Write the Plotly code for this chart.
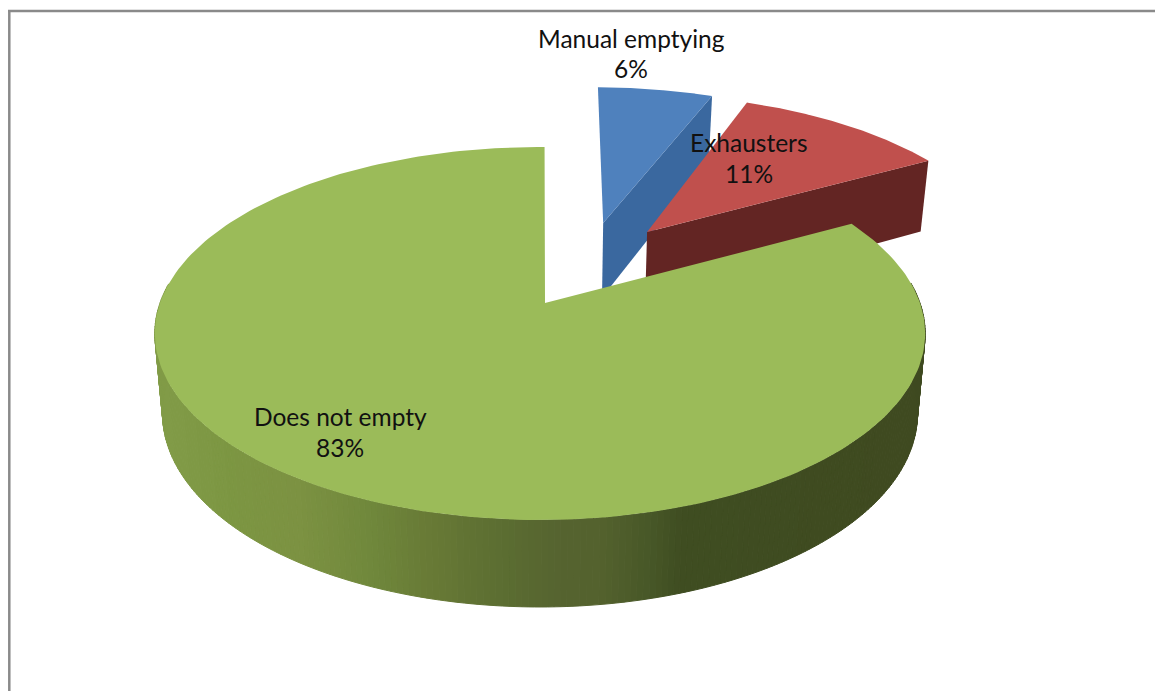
import numpy as np
import plotly.graph_objects as go

# Share of each emptying practice, in percent
categories = ["Manual emptying", "Exhausters", "Does not empty"]
shares = [6, 11, 83]
share_labels = ["6%", "11%", "83%"]

# Colours of each slice: top face, cut face
TOP_COLORS = ["#4f81bd", "#c0504d", "#9bbb59"]
CUT_COLORS = ["#3a689f", "#632523", "#4f6228"]

# Pulled-out slices are offset on the pie's plane (right, away from viewer)
OFFSETS = [(0.165, -0.475), (0.287, -0.418), (0.0, 0.0)]
# Small per-slice corrections: pie rotation in degrees, rim shift in pixels
ROTATION_DEG = [0.45, 0.0, 0.8]
RIM_SHIFT = [0.0, -2.0, -5.0]
# Label centres: x, name line y, percentage line y
LABEL_POS = [(631, 38, 68), (749, 142, 173), (340, 416, 447)]

# Camera model for the tilted disc
CX, CY = 545.0, 303.0
A, B, K = 380.0, 181.5, 0.1635
BOTTOM_SCALE = 0.98

# Rim shading of the large slice, as (screen x, colour)
RIM_STOPS = [
    (155, (130, 156, 72)), (235, (124, 150, 66)), (300, (124, 146, 66)),
    (370, (112, 136, 60)), (430, (104, 122, 54)), (500, (92, 110, 50)),
    (560, (86, 100, 48)), (600, (84, 98, 46)), (650, (72, 88, 40)),
    (680, (64, 78, 34)), (925, (63, 74, 32)),
]


def top_point(u, v, shift=0.0):
    d = 1 - K * v
    return CX + shift + A * u / d, CY + B * v / d


def depth_at(v):
    return 78.5 + 8.5 * v


def bottom_point(u, v, shift=0.0):
    x, y = top_point(u, v, shift)
    return CX + shift + BOTTOM_SCALE * (x - CX - shift), y + depth_at(v)


def rim_uv(theta, off):
    return off[0] + np.sin(theta), off[1] - np.cos(theta)


def rim_color(x):
    xs = [s[0] for s in RIM_STOPS]
    rgb = [np.interp(x, xs, [s[1][i] for s in RIM_STOPS]) for i in range(3)]
    return "rgb(%d,%d,%d)" % tuple(int(c) for c in rgb)


def polygon(fig, xs, ys, color, edge=False):
    fig.add_trace(go.Scatter(
        x=list(xs), y=list(ys), mode="lines", fill="toself", fillcolor=color,
        line=dict(color=color, width=1 if edge else 0), hoverinfo="skip",
    ))


fig = go.Figure()

# Frame lines around the chart area
fig.add_shape(type="line", x0=9.3, x1=9.3, y0=10, y1=691, line=dict(color="#8a8a8a", width=2.5))
fig.add_shape(type="line", x0=8, x1=1155, y0=11, y1=11, line=dict(color="#8a8a8a", width=2.5))

# Slice boundaries in radians, clockwise from twelve o'clock
edges = np.cumsum([0] + shares) / sum(shares) * 2 * np.pi

for i in range(len(shares)):
    rot = np.radians(ROTATION_DEG[i])
    t0, t1 = edges[i] + rot, edges[i + 1] + rot
    off, shift = OFFSETS[i], RIM_SHIFT[i]
    thetas = np.linspace(t0, t1, 241)
    u, v = rim_uv(thetas, off)
    tx, ty = top_point(u, v, shift)
    ax, ay = top_point(*off)

    if i < 2:
        # Cut face along the trailing edge of a pulled-out slice
        xr, yr = top_point(u[-1], v[-1], shift)
        xb, yb = bottom_point(u[-1], v[-1], shift)
        apx, apy = bottom_point(*off)
        polygon(fig, [ax, xr, xb, apx, ax], [ay, yr, yb, apy, ay], CUT_COLORS[i])
    else:
        # Rim of the large slice, drawn as narrow shaded strips
        strip = np.linspace(t0, t1, 361)
        su, sv = rim_uv(strip, off)
        for j in range(len(strip) - 1):
            if max(sv[j], sv[j + 1]) < -0.1:
                continue
            x0, y0 = top_point(su[j], sv[j], shift)
            x1, y1 = top_point(su[j + 1], sv[j + 1], shift)
            x2, y2 = bottom_point(su[j + 1], sv[j + 1], shift)
            x3, y3 = bottom_point(su[j], sv[j], shift)
            polygon(fig, [x0, x1, x2, x3, x0], [y0, y1, y2, y3, y0],
                    rim_color((x0 + x1) / 2), edge=True)

    polygon(fig, [ax, *tx, ax], [ay, *ty, ay], TOP_COLORS[i])

for name, pct, (lx, ly_name, ly_pct) in zip(categories, share_labels, LABEL_POS):
    for text, ly in ((name, ly_name), (pct, ly_pct)):
        fig.add_annotation(
            x=lx, y=ly, text=text, showarrow=False, align="center",
            font=dict(family="Lato", size=24.5, color="#111111"),
        )

fig.update_xaxes(range=[0, 1155], visible=False, fixedrange=True)
fig.update_yaxes(range=[691, 0], visible=False, fixedrange=True)
fig.update_layout(
    width=1155, height=691, margin=dict(l=0, r=0, t=0, b=0),
    paper_bgcolor="white", plot_bgcolor="white", showlegend=False,
)
fig.write_html("out.html")
